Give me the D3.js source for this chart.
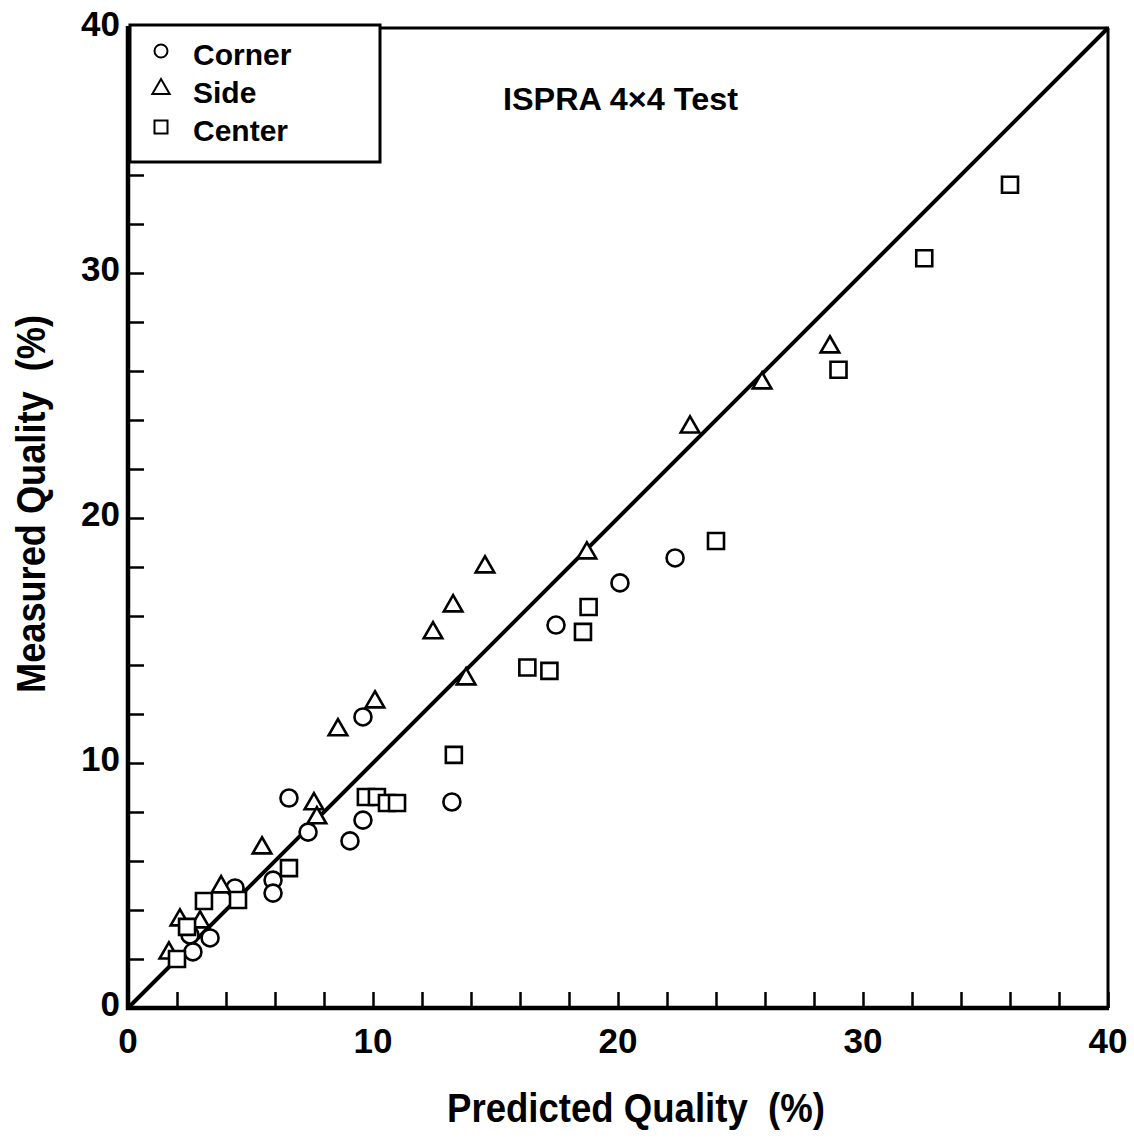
<!DOCTYPE html>
<html><head><meta charset="utf-8">
<script src="https://cdn.jsdelivr.net/npm/d3@7"></script>
<style>
html,body{margin:0;padding:0;background:#fff;}
text{font-family:"Liberation Sans",Arial,Helvetica,sans-serif;font-weight:bold;fill:#000;white-space:pre;}
</style></head>
<body>
<svg id="chart" width="1134" height="1139"></svg>
<script>
// ---- data (Predicted %, Measured %) ----
const cornerX = [2.53, 3.35, 2.65, 4.37, 5.92, 5.92, 6.57, 7.35, 9.06, 9.59, 9.59, 13.22, 17.47, 20.08, 22.33];
const cornerY = [2.98, 2.86, 2.29, 4.90, 5.22, 4.69, 8.57, 7.18, 6.82, 7.67, 11.88, 8.41, 15.63, 17.35, 18.37];

const sideX = [1.67, 2.12, 2.94, 3.80, 5.47, 7.59, 7.71, 8.57, 10.08, 12.45, 13.27, 14.57, 13.80, 18.73, 22.94, 25.88, 28.65];
const sideY = [2.24, 3.59, 3.51, 4.94, 6.53, 8.33, 7.76, 11.35, 12.49, 15.31, 16.41, 18.00, 13.43, 18.57, 23.71, 25.51, 26.98];

const centerX = [2.00, 2.41, 3.10, 4.49, 6.57, 9.71, 10.16, 10.57, 10.98, 13.30, 16.30, 17.20, 18.57, 18.80, 24.00, 29.00, 32.50, 36.00];
const centerY = [2.00, 3.31, 4.37, 4.41, 5.71, 8.61, 8.61, 8.37, 8.37, 10.33, 13.90, 13.76, 15.35, 16.37, 19.06, 26.05, 30.60, 33.60];

const legendLabels = ["Corner", "Side", "Center"];
const seriesShapes = ["circle", "triangle", "square"];
const xTickLabels = [0, 10, 20, 30, 40];
const yTickLabels = [0, 10, 20, 30, 40];
const minorTicks = d3.range(0, 41, 2);
const diagonal = [0, 40];
const titleText = "ISPRA 4\u00D74 Test";
const xTitle = "Predicted Quality\u00A0\u00A0(%)";
const yTitle = "Measured Quality\u00A0\u00A0(%)";

// ---- layout ----
const L = 128, R = 1108, T = 28, B = 1008;
const svg = d3.select("#chart");
const x = d3.scaleLinear().domain([0, 40]).range([L, R]);
const y = d3.scaleLinear().domain([0, 40]).range([B, T]);

// frame: top + right thin
svg.append("line").attr("x1", L).attr("x2", R + 1).attr("y1", T).attr("y2", T)
  .attr("stroke", "#000").attr("stroke-width", 3);
svg.append("line").attr("x1", R).attr("x2", R).attr("y1", T).attr("y2", B)
  .attr("stroke", "#000").attr("stroke-width", 3);

// axes with inward ticks
const xAxis = d3.axisTop(x).tickValues(minorTicks).tickSize(16).tickFormat("");
const gx = svg.append("g").attr("transform", `translate(0,${B})`).call(xAxis);
gx.select(".domain").remove();
gx.selectAll(".tick line").attr("stroke", "#000").attr("stroke-width", 2.5);

const yAxis = d3.axisRight(y).tickValues(minorTicks).tickSize(16).tickFormat("");
const gy = svg.append("g").attr("transform", `translate(${L},0)`).call(yAxis);
gy.select(".domain").remove();
gy.selectAll(".tick line").attr("stroke", "#000").attr("stroke-width", 2.5);

svg.append("line").attr("x1", L).attr("x2", L).attr("y1", T - 2).attr("y2", B + 2)
  .attr("stroke", "#000").attr("stroke-width", 4.5);
svg.append("line").attr("x1", L - 2).attr("x2", R + 1).attr("y1", B).attr("y2", B)
  .attr("stroke", "#000").attr("stroke-width", 4.5);

// tick labels
svg.append("g").selectAll("text").data(xTickLabels).join("text")
  .attr("x", d => x(d)).attr("y", B + 45)
  .attr("text-anchor", "middle").attr("font-size", 35).text(d => d);
svg.append("g").selectAll("text").data(yTickLabels).join("text")
  .attr("x", L - 8).attr("y", d => y(d) + 8)
  .attr("text-anchor", "end").attr("font-size", 35).text(d => d);

// axis titles
svg.append("text").attr("x", 636).attr("y", 1122).attr("text-anchor", "middle")
  .attr("font-size", 41).attr("textLength", 378).attr("lengthAdjust", "spacingAndGlyphs")
  .text(xTitle);
svg.append("text").attr("transform", "translate(45,504) rotate(-90)").attr("text-anchor", "middle")
  .attr("font-size", 41).attr("textLength", 378).attr("lengthAdjust", "spacingAndGlyphs")
  .text(yTitle);

// diagonal 1:1 line
svg.append("path").datum(diagonal)
  .attr("d", d3.line().x(d => x(d)).y(d => y(d)))
  .attr("stroke", "#000").attr("stroke-width", 4).attr("fill", "none");

// markers
const sym = {
  circle: d3.symbol().type(d3.symbolCircle).size(Math.PI * 8.5 * 8.5),
  triangle: d3.symbol().type(d3.symbolTriangle).size(150),
  square: d3.symbol().type(d3.symbolSquare).size(16 * 16)
};
function drawSeries(xs, ys, shape) {
  const pts = xs.map((v, i) => [v, ys[i]]);
  svg.append("g").selectAll("path").data(pts).join("path")
    .attr("d", sym[shape]())
    .attr("transform", d => `translate(${x(d[0])},${y(d[1])})`)
    .attr("fill", "#fff").attr("stroke", "#000").attr("stroke-width", 2.6);
}
drawSeries(cornerX, cornerY, "circle");
drawSeries(sideX, sideY, "triangle");
drawSeries(centerX, centerY, "square");

// legend box
svg.append("rect").attr("x", L + 2).attr("y", 25).attr("width", 250).attr("height", 137)
  .attr("fill", "#fff").attr("stroke", "#000").attr("stroke-width", 3);
const legSym = {
  circle: d3.symbol().type(d3.symbolCircle).size(Math.PI * 6.5 * 6.5),
  triangle: d3.symbol().type(d3.symbolTriangle).size(130),
  square: d3.symbol().type(d3.symbolSquare).size(13 * 13)
};
const leg = svg.append("g").selectAll("g").data(legendLabels).join("g")
  .attr("transform", (d, i) => `translate(0,${i * 38})`);
leg.append("path").attr("d", (d, i) => legSym[seriesShapes[i]]())
  .attr("transform", "translate(161,51)")
  .attr("fill", "#fff").attr("stroke", "#000").attr("stroke-width", 2);
leg.append("text").attr("x", 193).attr("y", 65).attr("font-size", 30).text(d => d);

// title
svg.append("text").attr("x", 503).attr("y", 110).attr("font-size", 31)
  .attr("textLength", 235).attr("lengthAdjust", "spacingAndGlyphs").text(titleText);
</script>
</body></html>
